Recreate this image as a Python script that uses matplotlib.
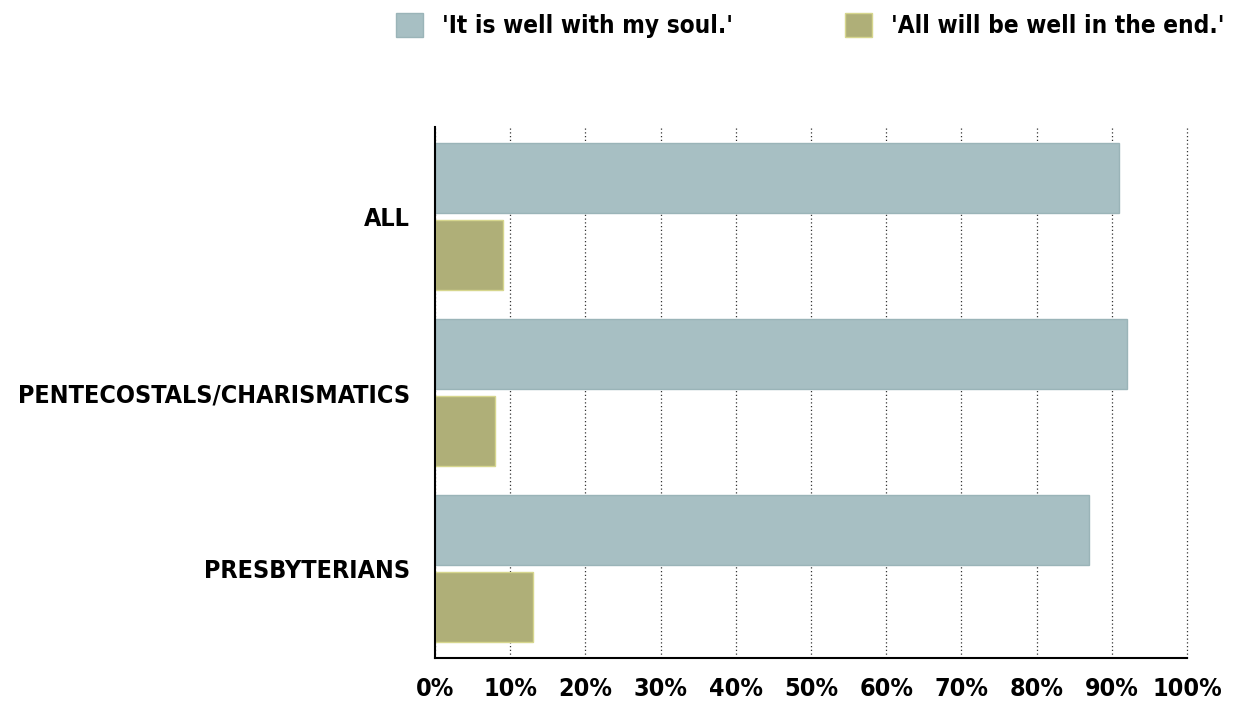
import matplotlib.pyplot as plt
import numpy as np
from matplotlib import font_manager
from matplotlib.ticker import FuncFormatter

# data
groups = ['ALL', 'PENTECOSTALS/CHARISMATICS', 'PRESBYTERIANS']
soul = [91, 92, 87]
end = [9, 8, 13]
series_names = ["'It is well with my soul.'", "'All will be well in the end.'"]

# pick a narrow face if one is installed
names = {f.name for f in font_manager.fontManager.ttflist}
cond = [f for f in font_manager.fontManager.ttflist
        if f.name == 'DejaVu Sans' and 'condensed' in str(f.stretch)]
if 'Liberation Sans Narrow' in names:
    family, stretch, fs = 'Liberation Sans Narrow', 'normal', 20
elif cond:
    family, stretch, fs = 'DejaVu Sans', 'condensed', 18
else:
    family, stretch, fs = 'DejaVu Sans', 'normal', 16

plt.rcParams['font.family'] = [family, 'DejaVu Sans']
plt.rcParams['font.weight'] = 'bold'
plt.rcParams['font.stretch'] = stretch

fig = plt.figure(figsize=(12.35, 7.06), dpi=100)
ax = fig.add_axes([0.3522, 0.068, 0.6089, 0.7521])

y = np.arange(len(groups))
h = 0.40
off = 0.219
b1 = ax.barh(y - off, soul, height=h, color='#a7bfc3', edgecolor='#9ab4b8',
             linewidth=1, label=series_names[0], zorder=2)
b2 = ax.barh(y + off, end, height=h, color='#afaf78', edgecolor='#d6d68e',
             linewidth=1, label=series_names[1], zorder=2)

ax.set_xlim(0, 100)
ax.set_ylim(2.51, -0.51)
ax.set_xticks(np.arange(0, 101, 10))
ax.xaxis.set_major_formatter(FuncFormatter(lambda v, p: f'{int(v)}%'))
ax.set_yticks(y)
ax.set_yticklabels(groups)
ax.tick_params(axis='both', length=0, labelsize=fs)
ax.tick_params(axis='x', pad=14)
ax.tick_params(axis='y', pad=18)
ax.grid(axis='x', linestyle=(0, (1, 2)), color='#333333', linewidth=0.9, zorder=0)
for gl in ax.get_xgridlines():
    gl.set_clip_on(False)
for s in ['top', 'right']:
    ax.spines[s].set_visible(False)
ax.spines['left'].set_linewidth(1.5)
ax.spines['bottom'].set_linewidth(1.5)

fig.legend(handles=[b1, b2], loc='upper center', bbox_to_anchor=(0.656, 1.012),
           ncol=2, frameon=False, fontsize=fs - 0.5, handlelength=1.1,
           handleheight=1.1, columnspacing=4.6, handletextpad=0.8)

plt.savefig('out.png', dpi=100)
